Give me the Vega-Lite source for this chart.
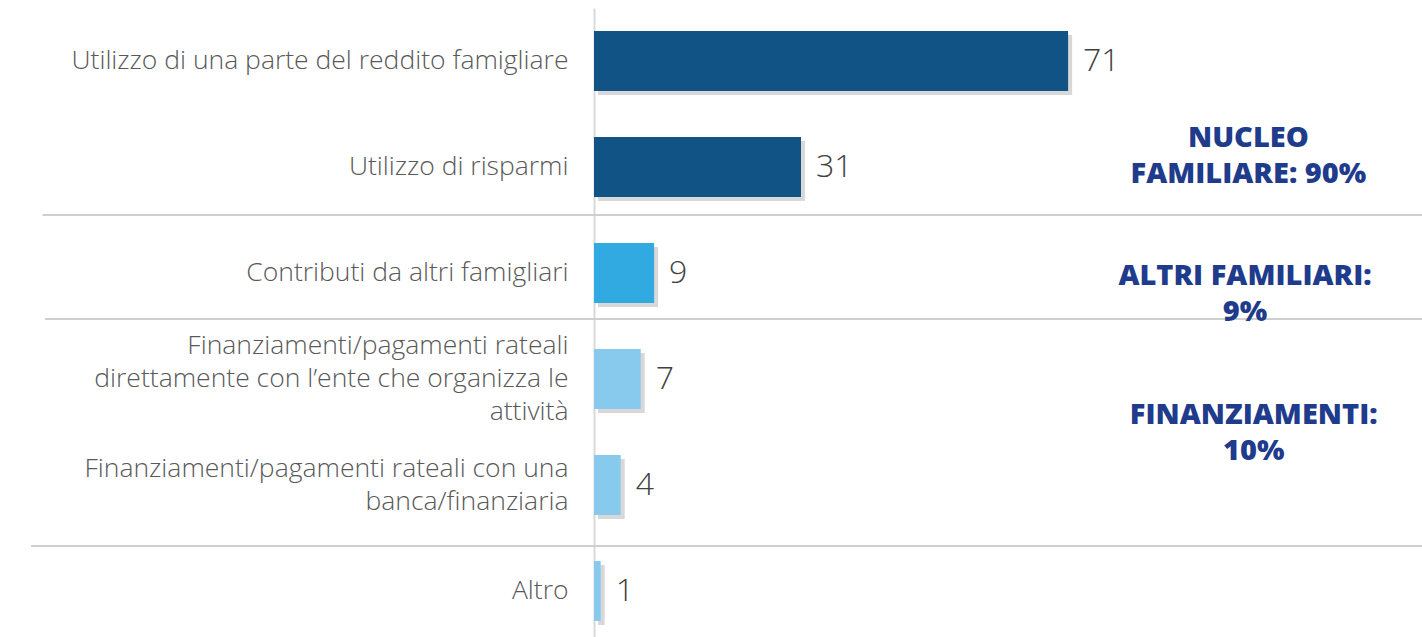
{
  "$schema": "https://vega.github.io/schema/vega-lite/v6.json",
  "width": 828,
  "height": 636,
  "autosize": {"type": "none"},
  "padding": {"left": 594, "top": 8, "right": 0, "bottom": 0},
  "background": "white",
  "config": {"view": {"stroke": null}},
  "datasets": {
    "bars": [
      {"label": "Utilizzo di una parte del reddito famigliare", "value": 71, "group": "nucleo"},
      {"label": "Utilizzo di risparmi", "value": 31, "group": "nucleo"},
      {"label": "Contributi da altri famigliari", "value": 9, "group": "altri"},
      {"label": "Finanziamenti/pagamenti rateali|direttamente con l’ente che organizza le|attività", "value": 7, "group": "fin"},
      {"label": "Finanziamenti/pagamenti rateali con una|banca/finanziaria", "value": 4, "group": "fin"},
      {"label": "Altro", "value": 1, "group": "fin"}
    ],
    "groups": [
      {"id": "n", "text": "NUCLEO|FAMILIARE: 90%"},
      {"id": "a", "text": "ALTRI FAMILIARI:|9%"},
      {"id": "f", "text": "FINANZIAMENTI:|10%"}
    ]
  },
  "data": {"name": "bars"},
  "encoding": {
    "y": {
      "field": "label", "type": "nominal", "sort": null,
      "scale": {"paddingInner": 0, "paddingOuter": 0},
      "axis": {
        "title": null, "ticks": false, "domain": true, "domainColor": "#d9d9d9", "domainWidth": 2,
        "labelPadding": 26, "labelFontSize": 26.5, "labelFont": "Open Sans", "labelFontWeight": 300,
        "labelColor": "#595959", "labelLimit": 0, "labelLineHeight": 33,
        "labelOffset": {"condition": [
          {"test": "length(split(datum.label, '|')) == 3", "value": -33},
          {"test": "length(split(datum.label, '|')) == 2", "value": -16.5}
        ], "value": 0},
        "labelExpr": "split(datum.label, '|')"
      }
    }
  },
  "layer": [
    {
      "mark": {"type": "bar", "height": {"band": 0.566}, "color": "#7f7f7f", "opacity": 0.3},
      "encoding": {
        "x": {"field": "value", "type": "quantitative", "scale": {"domain": [0, 124], "nice": false}, "axis": null},
        "xOffset": {"value": 4},
        "yOffset": {"value": 4}
      }
    },
    {
      "mark": {"type": "bar", "height": {"band": 0.566}},
      "encoding": {
        "x": {"field": "value", "type": "quantitative"},
        "color": {"field": "group", "type": "nominal", "legend": null,
          "scale": {"domain": ["nucleo", "altri", "fin"], "range": ["#125385", "#31a9e1", "#88caee"]}}
      }
    },
    {
      "mark": {"type": "text", "align": "left", "baseline": "middle", "dx": 15, "fontSize": 32, "font": "Open Sans", "fontWeight": 300, "color": "#404040"},
      "encoding": {
        "x": {"field": "value", "type": "quantitative"},
        "text": {"field": "value", "type": "quantitative"}
      }
    },
    {
      "data": {"values": [{}]},
      "mark": {"type": "rule", "color": "#cfcfcf", "strokeWidth": 2},
      "encoding": {
        "x": {"datum": -82.6}, "x2": {"datum": 124},
        "y": {"datum": "Utilizzo di risparmi", "bandPosition": 0.953}
      }
    },
    {
      "data": {"values": [{}]},
      "mark": {"type": "rule", "color": "#cfcfcf", "strokeWidth": 2},
      "encoding": {
        "x": {"datum": -82.2}, "x2": {"datum": 124},
        "y": {"datum": "Contributi da altri famigliari", "bandPosition": 0.934}
      }
    },
    {
      "data": {"values": [{}]},
      "mark": {"type": "rule", "color": "#cfcfcf", "strokeWidth": 2},
      "encoding": {
        "x": {"datum": -84.3}, "x2": {"datum": 124},
        "y": {"datum": "Altro", "bandPosition": 0.075}
      }
    },
    {
      "data": {"name": "groups"},
      "transform": [{"filter": "datum.id == 'n'"}],
      "mark": {"type": "text", "lineBreak": "|", "align": "center", "baseline": "middle", "font": "Open Sans", "fontWeight": 800, "fontSize": 29, "lineHeight": 36, "color": "#1f3b8c"},
      "encoding": {
        "x": {"datum": 98},
        "y": {"datum": "Utilizzo di risparmi", "bandPosition": 0.226},
        "text": {"field": "text"}
      }
    },
    {
      "data": {"name": "groups"},
      "transform": [{"filter": "datum.id == 'a'"}],
      "mark": {"type": "text", "lineBreak": "|", "align": "center", "baseline": "middle", "font": "Open Sans", "fontWeight": 800, "fontSize": 29, "lineHeight": 36, "color": "#1f3b8c"},
      "encoding": {
        "x": {"datum": 97.5},
        "y": {"datum": "Contributi da altri famigliari", "bandPosition": 0.528},
        "text": {"field": "text"}
      }
    },
    {
      "data": {"name": "groups"},
      "transform": [{"filter": "datum.id == 'f'"}],
      "mark": {"type": "text", "lineBreak": "|", "align": "center", "baseline": "middle", "font": "Open Sans", "fontWeight": 800, "fontSize": 29, "lineHeight": 36, "color": "#1f3b8c"},
      "encoding": {
        "x": {"datum": 98.8},
        "y": {"datum": "Finanziamenti/pagamenti rateali|direttamente con l’ente che organizza le|attività", "bandPosition": 0.84},
        "text": {"field": "text"}
      }
    }
  ]
}
